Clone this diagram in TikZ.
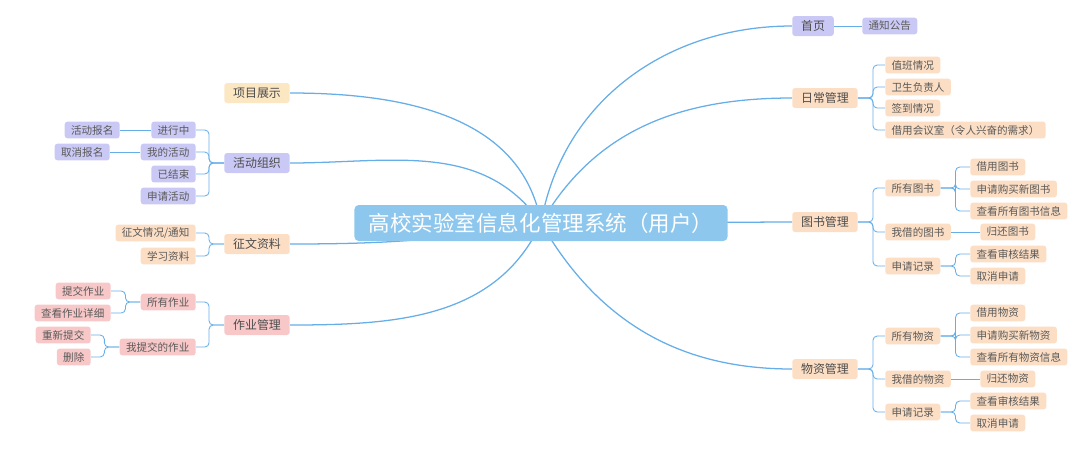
\documentclass[tikz,border=0pt]{standalone}
\usepackage{fontspec}
\setmainfont{Noto Sans CJK SC}
\usetikzlibrary{backgrounds}
\definecolor{line blue}{HTML}{66AEE8}
\definecolor{root fill}{HTML}{8EC7EE}
\definecolor{lavender}{HTML}{CAC8F5}
\definecolor{peach}{HTML}{FCDEC4}
\definecolor{rose}{HTML}{F8C8C8}
\definecolor{cream}{HTML}{FCE7C3}
\tikzset{
    rootbox/.style={fill=root fill, text=white, rounded corners=3pt, inner xsep=0.36cm,
        minimum height=0.9cm, font=\fontsize{15.3}{17}\selectfont},
    topic/.style={rounded corners=2pt, inner xsep=0.22cm, inner ysep=0pt, minimum height=0.5cm,
        font=\fontsize{8.5}{10}\selectfont, text=black!70},
    leaf/.style={rounded corners=2pt, inner xsep=0.16cm, inner ysep=0pt, minimum height=0.42cm,
        font=\fontsize{7.5}{9}\selectfont, text=black!65},
    purple/.style={fill=lavender},
    orange/.style={fill=peach},
    pink/.style={fill=rose},
    yellow/.style={fill=cream},
    branch/.style={draw=line blue, line width=0.9pt},
    twig/.style={draw=line blue, line width=0.6pt, rounded corners=3pt}
}

\begin{document}
\begin{tikzpicture}[x=0.025cm, y=-0.025cm]
    \useasboundingbox (0,0) rectangle (1081,450);

    % root
    \node[rootbox] (root) at (541,223) {高校实验室信息化管理系统（用户）};

    % right side topics
    \node[topic, purple, anchor=west] (home)  at (792,26)  {首页};
    \node[topic, orange, anchor=west] (daily) at (792,98)  {日常管理};
    \node[topic, orange, anchor=west] (books) at (792,222) {图书管理};
    \node[topic, orange, anchor=west] (goods) at (792,369) {物资管理};

    % left side topics
    \node[topic, yellow, anchor=east] (show)  at (290,93)  {项目展示};
    \node[topic, purple, anchor=east] (act)   at (290,163) {活动组织};
    \node[topic, orange, anchor=east] (essay) at (290,244) {征文资料};
    \node[topic, pink,   anchor=east] (work)  at (290,325) {作业管理};

    % 首页
    \node[leaf, purple, anchor=west] (notice) at (862,26) {通知公告};

    % 日常管理
    \node[leaf, orange, anchor=west] (duty)  at (885,65)  {值班情况};
    \node[leaf, orange, anchor=west] (clean) at (885,87)  {卫生负责人};
    \node[leaf, orange, anchor=west] (sign)  at (885,108) {签到情况};
    \node[leaf, orange, anchor=west] (room)  at (885,130) {借用会议室（令人兴奋的需求）};

    % 图书管理
    \node[leaf, orange, anchor=west] (allbook)  at (885,188) {所有图书};
    \node[leaf, orange, anchor=west] (mybook)   at (885,232) {我借的图书};
    \node[leaf, orange, anchor=west] (bookreq)  at (885,266) {申请记录};
    \node[leaf, orange, anchor=west] (borrowb)  at (970,167) {借用图书};
    \node[leaf, orange, anchor=west] (buyb)     at (970,189) {申请购买新图书};
    \node[leaf, orange, anchor=west] (viewb)    at (970,211) {查看所有图书信息};
    \node[leaf, orange, anchor=west] (returnb)  at (980,232) {归还图书};
    \node[leaf, orange, anchor=west] (checkb)   at (970,254) {查看审核结果};
    \node[leaf, orange, anchor=west] (cancelb)  at (970,276) {取消申请};

    % 物资管理
    \node[leaf, orange, anchor=west] (allgood)  at (885,336) {所有物资};
    \node[leaf, orange, anchor=west] (mygood)   at (885,379) {我借的物资};
    \node[leaf, orange, anchor=west] (goodreq)  at (885,412) {申请记录};
    \node[leaf, orange, anchor=west] (borrowg)  at (970,313) {借用物资};
    \node[leaf, orange, anchor=west] (buyg)     at (970,335) {申请购买新物资};
    \node[leaf, orange, anchor=west] (viewg)    at (970,357) {查看所有物资信息};
    \node[leaf, orange, anchor=west] (returng)  at (980,379) {归还物资};
    \node[leaf, orange, anchor=west] (checkg)   at (970,401) {查看审核结果};
    \node[leaf, orange, anchor=west] (cancelg)  at (970,423) {取消申请};

    % 活动组织
    \node[leaf, purple, anchor=east] (running) at (196,130) {进行中};
    \node[leaf, purple, anchor=east] (myact)   at (196,152) {我的活动};
    \node[leaf, purple, anchor=east] (ended)   at (196,174) {已结束};
    \node[leaf, purple, anchor=east] (newact)  at (196,196) {申请活动};
    \node[leaf, purple, anchor=east] (enrol)   at (120,130) {活动报名};
    \node[leaf, purple, anchor=east] (unenrol) at (110,152) {取消报名};

    % 征文资料
    \node[leaf, orange, anchor=east] (call)  at (196,233) {征文情况/通知};
    \node[leaf, orange, anchor=east] (study) at (196,256) {学习资料};

    % 作业管理
    \node[leaf, pink, anchor=east] (allwork) at (196,302) {所有作业};
    \node[leaf, pink, anchor=east] (mywork)  at (196,347) {我提交的作业};
    \node[leaf, pink, anchor=east] (submit)  at (111,291) {提交作业};
    \node[leaf, pink, anchor=east] (detail)  at (111,313) {查看作业详细};
    \node[leaf, pink, anchor=east] (resub)   at (91,335)  {重新提交};
    \node[leaf, pink, anchor=east] (delete)  at (91,357)  {删除};

    \begin{pgfonlayer}{background}
        % main branches
        \draw[branch] (root.center) to[out=80,in=180]  (home.west);
        \draw[branch] (root.center) to[out=60,in=180]  (daily.west);
        \draw[branch] (root.center) --                 (books.west);
        \draw[branch] (root.center) to[out=-60,in=180] (goods.west);
        \draw[branch] (root.center) to[out=100,in=0]   (show.east);
        \draw[branch] (root.center) to[out=125,in=0]   (act.east);
        \draw[branch] (root.center) to[out=190,in=0]   (essay.east);
        \draw[branch] (root.center) to[out=245,in=0]   (work.east);

        % right twigs
        \draw[twig] (home.east) -- (notice.west);
        \foreach \n in {duty,clean,sign,room}
            \draw[twig] (daily.east) -- ++(15,0) |- (\n.west);
        \foreach \n in {allbook,mybook,bookreq}
            \draw[twig] (books.east) -- ++(15,0) |- (\n.west);
        \foreach \n in {borrowb,buyb,viewb}
            \draw[twig] (allbook.east) -- ++(15,0) |- (\n.west);
        \draw[twig] (mybook.east) -- (returnb.west);
        \foreach \n in {checkb,cancelb}
            \draw[twig] (bookreq.east) -- ++(15,0) |- (\n.west);
        \foreach \n in {allgood,mygood,goodreq}
            \draw[twig] (goods.east) -- ++(15,0) |- (\n.west);
        \foreach \n in {borrowg,buyg,viewg}
            \draw[twig] (allgood.east) -- ++(15,0) |- (\n.west);
        \draw[twig] (mygood.east) -- (returng.west);
        \foreach \n in {checkg,cancelg}
            \draw[twig] (goodreq.east) -- ++(15,0) |- (\n.west);

        % left twigs
        \foreach \n in {running,myact,ended,newact}
            \draw[twig] (act.west) -- ++(-15,0) |- (\n.east);
        \draw[twig] (running.west) -- (enrol.east);
        \draw[twig] (myact.west) -- (unenrol.east);
        \foreach \n in {call,study}
            \draw[twig] (essay.west) -- ++(-15,0) |- (\n.east);
        \foreach \n in {allwork,mywork}
            \draw[twig] (work.west) -- ++(-15,0) |- (\n.east);
        \foreach \n in {submit,detail}
            \draw[twig] (allwork.west) -- ++(-15,0) |- (\n.east);
        \foreach \n in {resub,delete}
            \draw[twig] (mywork.west) -- ++(-15,0) |- (\n.east);
    \end{pgfonlayer}
\end{tikzpicture}
\end{document}
